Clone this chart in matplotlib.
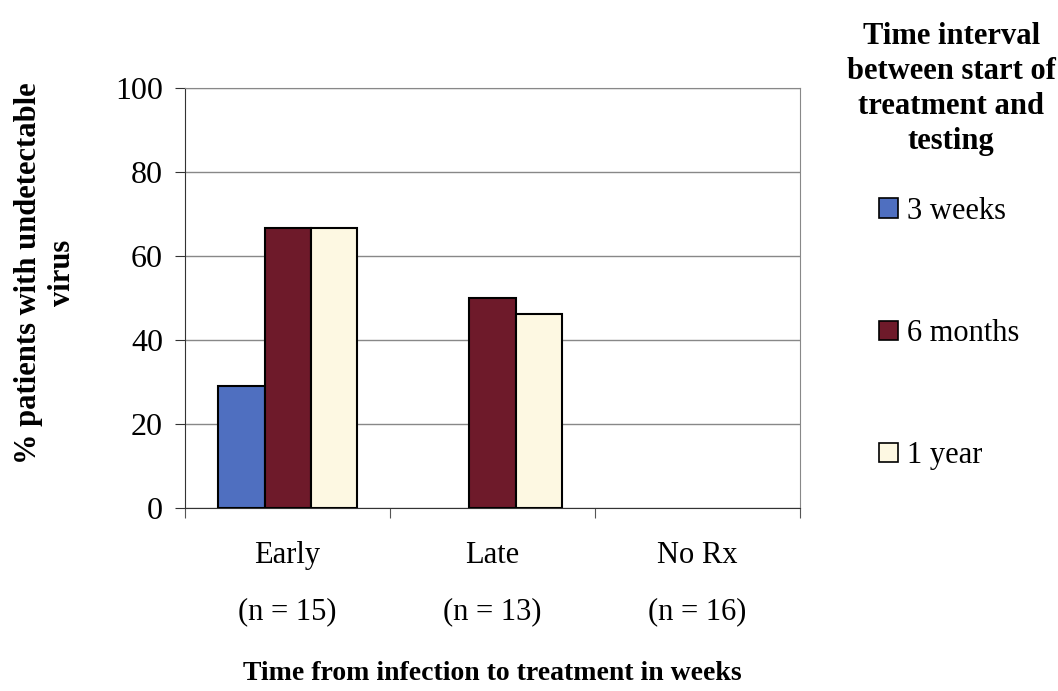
import numpy as np
import matplotlib
matplotlib.use('Agg')
from matplotlib import pyplot as plt
from matplotlib.patches import Patch

plt.rcParams['font.family'] = ['Liberation Serif', 'DejaVu Serif']

# data
categories = ['Early\n(n = 15)', 'Late\n(n = 13)', 'No Rx\n(n = 16)']
series_names = ['3 weeks', '6 months', '1 year']
weeks3 = [29, 0, 0]
months6 = [66.7, 50, 0]
year1 = [66.7, 46.2, 0]
colors = ['#4f6fc0', '#6e1a2a', '#fdf8e2']

fig = plt.figure(figsize=(10.58, 6.91), dpi=100)
ax = fig.add_axes([0.175, 0.265, 0.581, 0.608])

x = np.arange(len(categories))
w = 0.225
for i, (vals, c) in enumerate(zip([weeks3, months6, year1], colors)):
    vals = np.array(vals, dtype=float)
    vals[vals == 0] = np.nan   # no bar drawn for empty groups
    ax.bar(x + (i - 1) * w, vals, w, color=c, edgecolor='black', linewidth=1.5, zorder=3)

ax.set_xlim(-0.5, 2.5)
ax.set_ylim(0, 100)
ax.set_yticks([0, 20, 40, 60, 80, 100])
ax.yaxis.grid(True, color='#888888', linewidth=1, zorder=0)
ax.set_xticks([-0.5, 0.5, 1.5, 2.5])
ax.set_xticklabels([])
ax.set_xticks(x, minor=True)
ax.set_xticklabels(categories, minor=True, fontsize=22, linespacing=2.25)
ax.tick_params(axis='x', which='minor', length=0, pad=24)
ax.tick_params(axis='x', which='major', length=7, direction='out', color='#555555')
ax.tick_params(axis='y', labelsize=23, length=7, direction='out', pad=9, color='#333333')
for s in ['top', 'right']:
    ax.spines[s].set_color('#888888')
ax.spines['left'].set_color('#333333')
ax.spines['bottom'].set_color('#333333')

fig.text(0.043, 0.605, '% patients with undetectable\nvirus', rotation=90, ha='center', va='center',
         fontsize=22, fontweight='bold', linespacing=1.25, multialignment='center')
fig.text(0.465, 0.016, 'Time from infection to treatment in weeks', ha='center',
         fontsize=20, fontweight='bold')

# legend title as its own text block
fig.text(0.899, 0.968, 'Time interval\nbetween start of\ntreatment and\ntesting', ha='center', va='top',
         fontsize=22, fontweight='bold', linespacing=1.27, multialignment='center')
handles = [Patch(facecolor=c, edgecolor='black', linewidth=1.2) for c in colors]
leg = fig.legend(handles, series_names, loc='upper left', bbox_to_anchor=(0.805, 0.755),
                 frameon=False, fontsize=22, labelspacing=3.05,
                 handlelength=0.6, handleheight=0.6, handletextpad=0.3)

fig.savefig('out.png', dpi=100)
